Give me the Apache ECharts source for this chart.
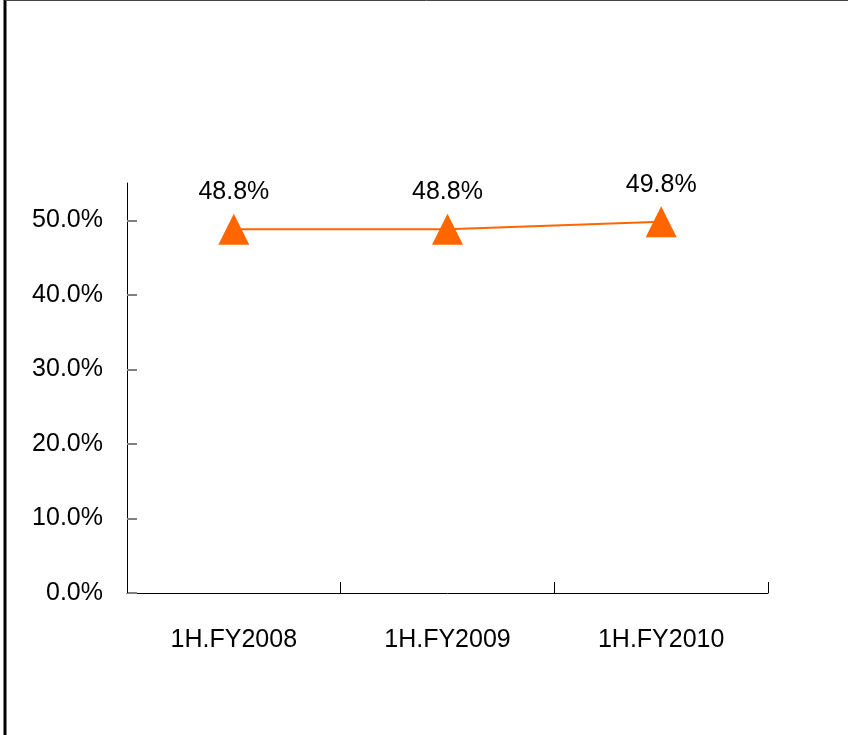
<!DOCTYPE html>
<html>
<head>
<meta charset="utf-8">
<script src="https://cdn.jsdelivr.net/npm/echarts@6/dist/echarts.min.js"></script>
<style>
  html, body { margin: 0; padding: 0; background: #fff; }
  #chart { width: 848px; height: 735px; }
</style>
</head>
<body>
<div id="chart"></div>
<script>
// Half-year periods and ratio values (%)
const categories = ['1H.FY2008', '1H.FY2009', '1H.FY2010'];
const ratioValues = [48.8, 48.8, 49.8];
const yTickValues = [0, 10, 20, 30, 40, 50];

const FONT = '"Liberation Sans", Arial, sans-serif';

const chart = echarts.init(document.getElementById('chart'), null, { renderer: 'canvas' });

chart.setOption({
  backgroundColor: '#ffffff',
  animation: false,
  grid: { left: 127, right: 80, top: 183, bottom: 142, containLabel: false },
  graphic: [
    { type: 'line', shape: { x1: 5, y1: 0, x2: 5, y2: 735 }, style: { stroke: '#000', lineWidth: 3 } },
    { type: 'line', shape: { x1: 5, y1: 0.5, x2: 848, y2: 0.5 }, style: { stroke: '#444', lineWidth: 1 } }
  ],
  xAxis: {
    type: 'category',
    data: categories,
    boundaryGap: true,
    axisLine: { show: true, lineStyle: { color: '#000', width: 1 } },
    axisTick: { show: true, inside: true, length: 11, alignWithLabel: false, lineStyle: { color: '#000', width: 1 } },
    axisLabel: { color: '#000', fontFamily: FONT, fontSize: 25, margin: 35 },
    splitLine: { show: false }
  },
  yAxis: {
    type: 'value',
    min: 0,
    max: 55,
    interval: 10,
    axisLine: { show: true, lineStyle: { color: '#000', width: 1 } },
    axisTick: { show: true, inside: true, length: 10, customValues: yTickValues, lineStyle: { color: '#808080', width: 2 } },
    axisLabel: {
      color: '#000', fontFamily: FONT, fontSize: 25, margin: 24,
      customValues: yTickValues,
      formatter: v => v.toFixed(1) + '%'
    },
    splitLine: { show: false }
  },
  series: [{
    type: 'line',
    data: ratioValues,
    symbol: 'triangle',
    symbolSize: [31, 31],
    itemStyle: { color: '#FF6600' },
    lineStyle: { color: '#FF6600', width: 2 },
    label: {
      show: true,
      position: 'top',
      distance: 9,
      color: '#000',
      fontFamily: FONT,
      fontSize: 25,
      formatter: p => p.value.toFixed(1) + '%'
    }
  }]
});
</script>
</body>
</html>
